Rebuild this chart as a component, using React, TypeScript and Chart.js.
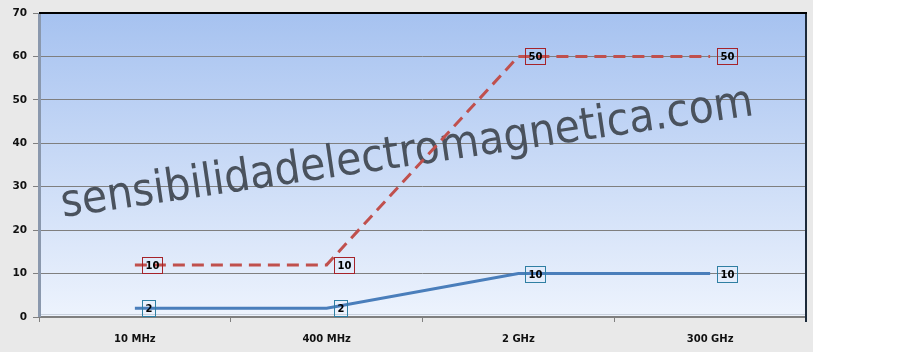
import React, { useEffect, useRef } from "react";
import { Chart, registerables } from "chart.js";

Chart.register(...registerables);

const categories = ["10 MHz", "400 MHz", "2 GHz", "300 GHz"];
const redValues = [12, 12, 60, 60];
const redLabels = ["10", "10", "50", "50"];
const blueValues = [2, 2, 10, 10];
const blueLabels = ["2", "2", "10", "10"];
const yMin = 0;
const yMax = 70;
const yStep = 10;
const watermarkText = "sensibilidadelectromagnetica.com";

const W = 904;
const H = 352;
const GRAY_RIGHT = 813;

const bgPlugin = {
  id: "bg",
  beforeDraw(chart: any) {
    const { ctx, chartArea: a } = chart;
    ctx.save();
    ctx.fillStyle = "#ffffff";
    ctx.fillRect(0, 0, W, H);
    ctx.fillStyle = "#e9e9e9";
    ctx.fillRect(0, 0, GRAY_RIGHT, H);
    const g = ctx.createLinearGradient(0, a.top, 0, a.bottom);
    g.addColorStop(0, "#a6c2f0");
    g.addColorStop(1, "#edf3fd");
    ctx.fillStyle = g;
    ctx.fillRect(a.left, a.top, a.right - a.left, a.bottom - a.top);
    ctx.fillStyle = "#c9d1dd";
    ctx.fillRect(a.left, a.bottom - 3, a.right - a.left, 1);
    ctx.restore();
  },
};

const watermarkPlugin = {
  id: "watermark",
  beforeDatasetsDraw(chart: any) {
    const { ctx } = chart;
    ctx.save();
    ctx.translate(63, 217);
    ctx.rotate((-8.4 * Math.PI) / 180);
    const fam = '"DejaVu Sans Condensed", "DejaVu Sans"';
    ctx.font = `40px ${fam}`;
    const w40 = ctx.measureText(watermarkText).width;
    const size = Math.min(48, (40 * 700) / w40);
    ctx.font = `${size.toFixed(1)}px ${fam}`;
    ctx.fillStyle = "#4a525d";
    ctx.textAlign = "left";
    ctx.textBaseline = "alphabetic";
    ctx.fillText(watermarkText, 0, 0);
    ctx.restore();
  },
};

const framePlugin = {
  id: "frame",
  afterDatasetsDraw(chart: any) {
    const { ctx, chartArea: a } = chart;
    ctx.save();
    ctx.fillStyle = "#8a98ad";
    ctx.fillRect(a.left - 1, a.top, 3, a.bottom - a.top);
    ctx.fillStyle = "#1c2a3a";
    ctx.fillRect(a.right - 1, a.top, 2, a.bottom - a.top + 5);
    ctx.fillStyle = "#000000";
    ctx.fillRect(a.left, a.top - 1, a.right - a.left + 1, 2);
    ctx.restore();
  },
};

const labelsPlugin = {
  id: "boxLabels",
  afterDatasetsDraw(chart: any) {
    const { ctx } = chart;
    ctx.save();
    ctx.font = 'bold 10px "DejaVu Sans"';
    ctx.textAlign = "center";
    ctx.textBaseline = "middle";
    chart.data.datasets.forEach((ds: any, di: number) => {
      const meta = chart.getDatasetMeta(di);
      const labels: string[] = ds.boxLabels;
      meta.data.forEach((pt: any, i: number) => {
        const txt = labels[i];
        const tw = ctx.measureText(txt).width;
        const w = Math.round(tw + 6);
        const h = 16;
        const left = Math.round(pt.x + 7);
        const top = Math.round(pt.y - 8);
        ctx.strokeStyle = ds.boxColor;
        ctx.lineWidth = 1;
        ctx.strokeRect(left + 0.5, top + 0.5, w, h);
        ctx.fillStyle = "#000000";
        ctx.fillText(txt, left + w / 2 + 0.5, top + h / 2 + 1);
      });
    });
    ctx.restore();
  },
};

export default function App() {
  const ref = useRef<HTMLCanvasElement | null>(null);

  useEffect(() => {
    if (!ref.current) return;
    const chart = new Chart(ref.current, {
      type: "line",
      data: {
        labels: categories,
        datasets: [
          {
            label: "A",
            data: redValues,
            borderColor: "#c0504d",
            borderWidth: 3,
            borderDash: [12, 7],
            pointRadius: 0,
            tension: 0,
            fill: false,
            boxLabels: redLabels,
            boxColor: "#a5232a",
          } as any,
          {
            label: "B",
            data: blueValues,
            borderColor: "#4a7ebb",
            borderWidth: 3,
            pointRadius: 0,
            tension: 0,
            fill: false,
            boxLabels: blueLabels,
            boxColor: "#2f7fa3",
          } as any,
        ],
      },
      options: {
        responsive: false,
        animation: false,
        devicePixelRatio: 1,
        layout: { padding: { left: 0, top: 13, right: W - 806, bottom: 0 } },
        plugins: {
          legend: { display: false },
          tooltip: { enabled: false },
          title: { display: false },
        },
        scales: {
          x: {
            offset: true,
            grid: {
              offset: true,
              drawOnChartArea: false,
              drawTicks: true,
              tickLength: 5,
              color: "#808080",
            },
            border: { display: true, color: "#7f7f7f", width: 2 },
            ticks: {
              color: "#111111",
              font: { family: "DejaVu Sans", size: 10, weight: "bold" },
              padding: 11,
              maxRotation: 0,
            },
            afterFit(scale: any) {
              scale.height = 35;
            },
          },
          y: {
            min: yMin,
            max: yMax,
            ticks: {
              stepSize: yStep,
              color: "#111111",
              font: { family: "DejaVu Sans", size: 10.5, weight: "bold" },
              padding: 6,
            },
            grid: {
              color: "#7f7f7f",
              lineWidth: 1,
              tickLength: 6,
            },
            border: { display: false },
            afterFit(scale: any) {
              scale.width = 39;
            },
          },
        },
      },
      plugins: [bgPlugin, watermarkPlugin, framePlugin, labelsPlugin],
    });
    return () => chart.destroy();
  }, []);

  return (
    <div style={{ position: "fixed", left: 0, top: 0, width: W, height: H, background: "#fff" }}>
      <canvas ref={ref} width={W} height={H} style={{ display: "block", width: W, height: H }} />
    </div>
  );
}
